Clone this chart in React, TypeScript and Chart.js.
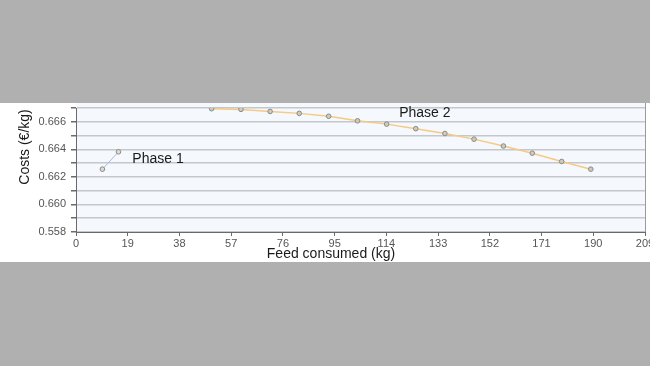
import React, { useEffect, useRef } from "react";
import { Chart, registerables } from "chart.js";

Chart.register(...registerables);

const phase1X = [9.7, 15.6];
const phase1Y = [0.66256, 0.66382];
const phase2X = [49.8, 60.6, 71.3, 82.0, 92.8, 103.4, 114.1, 124.8, 135.5, 146.2, 157.0, 167.6, 178.4, 189.1];
const phase2Y = [0.66695, 0.6669, 0.66675, 0.66661, 0.6664, 0.66607, 0.66583, 0.6655, 0.66515, 0.66474, 0.66424, 0.66372, 0.66312, 0.66256];
const yTickValues = [0.658, 0.66, 0.662, 0.664, 0.666];
const yTickLabels = ["0.558", "0.660", "0.662", "0.664", "0.666"];
const phaseNames = ["Phase 1", "Phase 2"];
const phaseLabelX = [20.7, 118.7];
const phaseLabelY = [0.66332, 0.66666];
const xTitle = "Feed consumed (kg)";
const yTitle = "Costs (€/kg)";

const FONT = '"Liberation Sans", Arial, sans-serif';

export default function App() {
  const ref = useRef<HTMLCanvasElement | null>(null);
  useEffect(() => {
    if (!ref.current) return;
    const decor = {
      id: "decor",
      beforeDraw(chart: any) {
        const { ctx, chartArea } = chart;
        ctx.save();
        ctx.fillStyle = "#f5f8fc";
        ctx.fillRect(chartArea.left, 0, chartArea.right - chartArea.left, chartArea.bottom);
        ctx.restore();
      },
      afterDraw(chart: any) {
        const { ctx, chartArea, scales } = chart;
        ctx.save();
        ctx.strokeStyle = "#9a9a9a";
        ctx.lineWidth = 1;
        ctx.beginPath();
        ctx.moveTo(chartArea.right + 0.5, 0);
        ctx.lineTo(chartArea.right + 0.5, chartArea.bottom);
        ctx.stroke();
        ctx.fillStyle = "#1a1a1a";
        ctx.font = "14px " + FONT;
        ctx.textBaseline = "middle";
        ctx.textAlign = "left";
        for (let i = 0; i < phaseNames.length; i++) {
          ctx.fillText(
            phaseNames[i],
            scales.x.getPixelForValue(phaseLabelX[i]),
            scales.y.getPixelForValue(phaseLabelY[i])
          );
        }
        ctx.textAlign = "center";
        ctx.fillText(xTitle, chartArea.left + 255, chartArea.bottom + 22);
        ctx.translate(chartArea.left - 50.5, chartArea.top + 39);
        ctx.rotate(-Math.PI / 2);
        ctx.fillText(yTitle, 0, 0);
        ctx.restore();
      },
    };
    const chart = new Chart(ref.current, {
      type: "line",
      data: {
        datasets: [
          {
            label: "Phase 1",
            data: phase1X.map((x, i) => ({ x, y: phase1Y[i] })),
            borderColor: "#a3bde3",
            borderWidth: 1,
            pointRadius: 2.3,
            pointBorderColor: "#8c8c84",
            pointBackgroundColor: "#dcdcd4",
            pointBorderWidth: 1,
            tension: 0,
          },
          {
            label: "Phase 2",
            data: phase2X.map((x, i) => ({ x, y: phase2Y[i] })),
            borderColor: "#f6c985",
            borderWidth: 1.5,
            pointRadius: 2.3,
            pointBorderColor: "#8c8c84",
            pointBackgroundColor: "#cfcac0",
            pointBorderWidth: 1,
            tension: 0,
          },
        ],
      },
      options: {
        animation: false,
        responsive: false,
        devicePixelRatio: 1,
        layout: { padding: { left: 0, top: 2, right: 5, bottom: 0 } },
        plugins: { legend: { display: false }, tooltip: { enabled: false } },
        scales: {
          x: {
            type: "linear",
            min: 0,
            max: 209,
            afterFit(scale: any) {
              scale.height = 30;
              scale.paddingLeft = 0;
              scale.paddingRight = 0;
            },
            border: { color: "#6a6a6a", width: 1 },
            grid: { drawOnChartArea: false, drawTicks: true, tickLength: 4, tickColor: "#6a6a6a" },
            ticks: {
              stepSize: 19,
              autoSkip: false,
              maxRotation: 0,
              padding: 1,
              color: "#555",
              font: { family: FONT, size: 11 },
            },
          },
          y: {
            type: "linear",
            min: 0.658,
            max: 0.667,
            afterFit(scale: any) {
              scale.width = 76;
              scale.paddingTop = 0;
              scale.paddingBottom = 0;
            },
            border: { color: "#6a6a6a", width: 1 },
            grid: { color: "#c4c8cc", lineWidth: 1.5, drawTicks: true, tickLength: 5, tickColor: "#6a6a6a" },
            ticks: {
              stepSize: 0.001,
              autoSkip: false,
              padding: 5,
              color: "#555",
              font: { family: FONT, size: 11 },
              callback(v: any) {
                const idx = yTickValues.findIndex((t) => Math.abs(t - Number(v)) < 1e-6);
                return idx >= 0 ? yTickLabels[idx] : "";
              },
            },
          },
        },
      },
      plugins: [decor],
    } as any);
    return () => chart.destroy();
  }, []);
  return (
    <div style={{ position: "fixed", left: 0, top: 0, width: 650, height: 366, background: "#b0b0b0" }}>
      <div style={{ position: "absolute", left: 0, top: 103, width: 650, height: 159, background: "#ffffff" }}>
        <canvas ref={ref} width={650} height={159} style={{ display: "block", width: 650, height: 159 }} />
      </div>
    </div>
  );
}
